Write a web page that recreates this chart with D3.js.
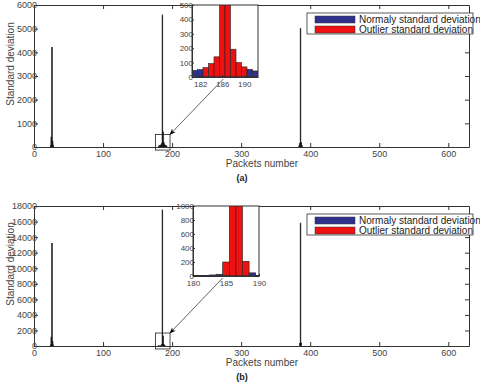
<!DOCTYPE html>
<html lang="en">
<head>
<meta charset="utf-8">
<script src="https://cdn.jsdelivr.net/npm/d3@7"></script>
<style>
  body { margin: 0; background: #fff; }
  svg { font-family: Arial, "Liberation Sans", sans-serif; }
</style>
</head>
<body>
<svg id="chart" width="480" height="384"></svg>
<script>
// panel (a): packets with non-trivial std deviation
var packetsA = [24, 25, 26, 27, 28,
                181, 182, 183, 184, 185, 186, 187, 188, 189, 190, 191, 192,
                384, 385, 386, 387, 388];
var stdA     = [60, 420, 4200, 250, 80,
                46, 51, 65, 93, 140, 5580, 640, 193, 100, 70, 53, 42,
                50, 150, 5000, 200, 60];
var outlierA = [0, 1, 1, 1, 0,
                0, 0, 1, 1, 1, 1, 1, 1, 1, 1, 0, 0,
                0, 1, 1, 1, 0];

// panel (b)
var packetsB = [24, 25, 26, 27, 28,
                180, 181, 182, 183, 184, 185, 186, 187, 188, 189, 190,
                385, 386, 387];
var stdB     = [150, 1150, 13200, 600, 150,
                10, 10, 10, 15, 25, 200, 17500, 1300, 210, 45, 10,
                300, 15800, 400];
var outlierB = [0, 1, 1, 1, 0,
                0, 0, 0, 0, 0, 1, 1, 1, 1, 0, 0,
                1, 1, 1];

var xTicks = [0, 100, 200, 300, 400, 500, 600];
var yTicksA = [0, 1000, 2000, 3000, 4000, 5000, 6000];
var yTicksB = [0, 2000, 4000, 6000, 8000, 10000, 12000, 14000, 16000, 18000];
var insetTicksA = {x: [182, 186, 190], y: [0, 100, 200, 300, 400, 500]};
var insetTicksB = {x: [180, 185, 190], y: [0, 200, 400, 600, 800, 1000]};
var legendLabels = ["Normaly standard deviation", "Outlier standard deviation"];

var blue = "#30308f", red = "#ee1111", axisCol = "#333", labelCol = "#444";
var fmt = d3.format("d");
var svg = d3.select("#chart");

svg.append("defs").append("marker")
  .attr("id", "head").attr("viewBox", "0 0 10 10")
  .attr("refX", 9).attr("refY", 5)
  .attr("markerWidth", 9).attr("markerHeight", 9)
  .attr("orient", "auto-start-reverse")
  .append("path").attr("d", "M0,1 L10,5 L0,9 L3,5 Z").attr("fill", "#000");

function panel(cfg) {
  var x = d3.scaleLinear().domain([0, 630]).range([34, 469]);
  var y = d3.scaleLinear().domain([0, cfg.ymax]).range([cfg.bottom, cfg.top]);
  var data = cfg.packets.map((p, i) => ({p: p, v: cfg.std[i], o: cfg.out[i]}));
  var g = svg.append("g");

  g.append("rect").attr("x", 34).attr("y", cfg.top)
    .attr("width", 435).attr("height", cfg.bottom - cfg.top)
    .attr("fill", "#fff");

  // bars (0.69 px wide, black edged like the original)
  g.selectAll("rect.bar").data(data).enter().append("rect")
    .attr("class", "bar")
    .attr("x", d => x(d.p - 0.5))
    .attr("width", d => x(d.p + 0.5) - x(d.p - 0.5))
    .attr("y", d => y(d.v))
    .attr("height", d => y(0) - y(d.v))
    .attr("fill", d => d.o ? "#1a1030" : blue)
    .attr("stroke", "#111").attr("stroke-width", 0.6);

  // axes, ticks pointing inward on all four sides
  g.append("g").attr("transform", `translate(0,${cfg.bottom})`)
    .call(d3.axisBottom(x).tickValues(xTicks).tickSizeInner(-4).tickSizeOuter(0).tickPadding(4));
  g.append("g").attr("transform", `translate(0,${cfg.top})`)
    .call(d3.axisTop(x).tickValues(xTicks).tickSizeInner(-4).tickSizeOuter(0).tickFormat(""));
  g.append("g").attr("transform", "translate(34,0)")
    .call(d3.axisLeft(y).tickValues(cfg.yticks).tickSizeInner(-4).tickSizeOuter(0).tickPadding(-3).tickFormat(fmt));
  g.append("g").attr("transform", "translate(469,0)")
    .call(d3.axisRight(y).tickValues(cfg.yticks).tickSizeInner(-4).tickSizeOuter(0).tickFormat(""));
  g.selectAll(".domain").attr("stroke", axisCol);
  g.selectAll(".tick line").attr("stroke", axisCol);
  g.selectAll(".tick text").attr("font-size", 9).attr("fill", labelCol)
    .attr("font-family", "Arial, 'Liberation Sans', sans-serif");

  g.append("text").attr("transform", `translate(14,${cfg.ylabelY}) rotate(-90)`)
    .attr("text-anchor", "middle").attr("font-size", 10).attr("fill", labelCol)
    .text("Standard deviation");
  g.append("text").attr("x", 262).attr("y", cfg.bottom + 20)
    .attr("text-anchor", "middle").attr("font-size", 10).attr("fill", labelCol)
    .text("Packets number");
  g.append("text").attr("x", 242).attr("y", cfg.bottom + 34)
    .attr("text-anchor", "middle").attr("font-size", 9).attr("font-weight", "bold")
    .attr("fill", "#222").text(cfg.tag);

  // zoom box on main plot
  var bx0 = x(176), bx1 = x(197), by0 = y(cfg.box[1]), by1 = y(cfg.box[0]);
  g.append("rect").attr("x", bx0).attr("y", by0)
    .attr("width", bx1 - bx0).attr("height", by1 - by0)
    .attr("fill", "none").attr("stroke", "#222").attr("stroke-width", 0.8);

  // inset
  var ix = d3.scaleLinear().domain(cfg.ixd).range([cfg.ix0, cfg.ix1]);
  var iy = d3.scaleLinear().domain([0, cfg.iymax]).range([cfg.ib, cfg.top]);
  var ig = g.append("g");
  ig.append("rect").attr("x", cfg.ix0).attr("y", cfg.top)
    .attr("width", cfg.ix1 - cfg.ix0).attr("height", cfg.ib - cfg.top).attr("fill", "#fff");
  var clipId = "clip" + cfg.tag.replace(/\W/g, "");
  ig.append("clipPath").attr("id", clipId).append("rect")
    .attr("x", cfg.ix0).attr("y", cfg.top)
    .attr("width", cfg.ix1 - cfg.ix0).attr("height", cfg.ib - cfg.top);
  ig.append("g").attr("clip-path", `url(#${clipId})`)
    .selectAll("rect").data(data.filter(d => d.p >= cfg.ixd[0] - 1 && d.p <= cfg.ixd[1] + 1))
    .enter().append("rect")
    .attr("x", d => ix(d.p - 0.5))
    .attr("width", d => ix(d.p + 0.5) - ix(d.p - 0.5))
    .attr("y", d => iy(Math.min(d.v, cfg.iymax * 1.05)))
    .attr("height", d => iy(0) - iy(Math.min(d.v, cfg.iymax * 1.05)))
    .attr("fill", d => d.o ? red : blue)
    .attr("stroke", "#222").attr("stroke-width", 0.6);
  ig.append("g").attr("transform", `translate(0,${cfg.ib})`)
    .call(d3.axisBottom(ix).tickValues(cfg.it.x).tickSizeInner(-2).tickSizeOuter(0).tickPadding(4));
  ig.append("g").attr("transform", `translate(${cfg.ix0},0)`)
    .call(d3.axisLeft(iy).tickValues(cfg.it.y).tickSizeInner(-2).tickSizeOuter(0).tickPadding(-1).tickFormat(fmt));
  ig.append("rect").attr("x", cfg.ix0).attr("y", cfg.top)
    .attr("width", cfg.ix1 - cfg.ix0).attr("height", cfg.ib - cfg.top)
    .attr("fill", "none").attr("stroke", axisCol);
  ig.selectAll(".domain").attr("stroke", axisCol);
  ig.selectAll(".tick line").attr("stroke", axisCol);
  ig.selectAll(".tick text").attr("font-size", 8).attr("fill", labelCol)
    .attr("font-family", "Arial, 'Liberation Sans', sans-serif");

  // arrow from inset to zoom box
  g.append("line")
    .attr("x1", ix(cfg.arrowFrom)).attr("y1", cfg.ib + 2)
    .attr("x2", bx1).attr("y2", by0)
    .attr("stroke", "#222").attr("stroke-width", 0.7)
    .attr("marker-end", "url(#head)");

  // legend
  var ly = cfg.top + 8;
  var lg = g.append("g");
  lg.append("rect").attr("x", 307).attr("y", ly).attr("width", 166).attr("height", 21)
    .attr("fill", "#fff").attr("stroke", axisCol).attr("stroke-width", 0.8);
  lg.selectAll("rect.sw").data(legendLabels).enter().append("rect")
    .attr("class", "sw")
    .attr("x", 315).attr("y", (d, i) => ly + 3 + i * 10)
    .attr("width", 40).attr("height", 7)
    .attr("fill", (d, i) => i ? red : blue)
    .attr("stroke", "#333").attr("stroke-width", 0.5);
  lg.selectAll("text").data(legendLabels).enter().append("text")
    .attr("x", 359).attr("y", (d, i) => ly + 9.5 + i * 10)
    .attr("font-size", 10).attr("fill", "#222")
    .text(d => d);
}

panel({tag: "(a)", top: 5, bottom: 147, ymax: 6000, yticks: yTicksA, ylabelY: 64,
       packets: packetsA, std: stdA, out: outlierA, box: [-130, 530],
       ixd: [180.5, 192.5], ix0: 192, ix1: 258, ib: 77, iymax: 500, it: insetTicksA,
       arrowFrom: 186.2});
panel({tag: "(b)", top: 206, bottom: 346, ymax: 18000, yticks: yTicksB, ylabelY: 264,
       packets: packetsB, std: stdB, out: outlierB, box: [-380, 1670],
       ixd: [180, 190], ix0: 193, ix1: 259, ib: 276, iymax: 1000, it: insetTicksB,
       arrowFrom: 184.5});
</script>
</body>
</html>
